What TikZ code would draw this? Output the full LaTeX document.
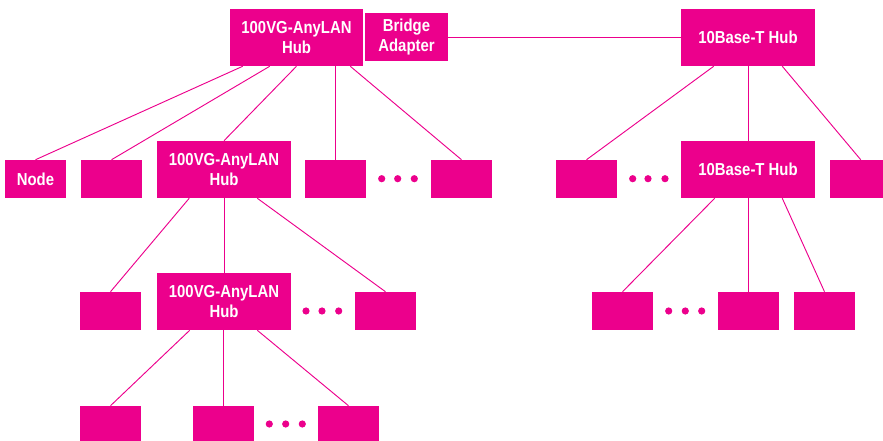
\documentclass[tikz,border=0pt]{standalone}
\usepackage{fontspec}
\setmainfont{Liberation Sans}[FakeStretch=0.86]
\usetikzlibrary{calc}
\definecolor{mag}{RGB}{236,0,140}
\newcommand\mybox[6]{\node[box, minimum width={(#4-#2)*0.75pt}, minimum height={(#5-#3)*0.75pt}] (#1) at ({(#2+#4)/2},{(#3+#5)/2}) {#6};}
\newcommand\mydots[4]{\foreach \dx in {#1,#2,#3} \fill[mag] (\dx,#4) circle[radius=3.6];}
\begin{document}
\begin{tikzpicture}[x=0.75pt,y=-0.75pt,
  box/.style={fill=mag, draw=none, text=white, font=\fontsize{13}{15}\selectfont\bfseries, align=center, inner sep=0pt},
  link/.style={draw=mag, line width=0.7pt}]
\useasboundingbox (0,0) rectangle (883,441);
% top row
\mybox{h1}{230}{9}{363}{66}{100VG-AnyLAN\\Hub}
\mybox{ba}{365}{13}{448}{61}{Bridge\\Adapter}
\mybox{t1}{681}{9}{815}{66}{10Base-T Hub}
% second row
\mybox{nd}{5}{160}{66}{198}{Node}
\mybox{b2}{81}{160}{142}{198}{}
\mybox{h2}{157}{141}{291}{198}{100VG-AnyLAN\\Hub}
\mybox{b3}{305}{160}{366}{198}{}
\mybox{b4}{431}{160}{492}{198}{}
\mybox{r1}{556}{160}{617}{198}{}
\mybox{t2}{681}{141}{815}{198}{10Base-T Hub}
\mybox{r2}{830}{160}{883}{198}{}
% third row
\mybox{l1}{80}{292}{141}{330}{}
\mybox{h3}{157}{273}{291}{330}{100VG-AnyLAN\\Hub}
\mybox{l2}{355}{292}{416}{330}{}
\mybox{rr1}{592}{292}{653}{330}{}
\mybox{rr2}{718}{292}{779}{330}{}
\mybox{rr3}{794}{292}{855}{330}{}
% fourth row
\mybox{f1}{80}{406}{141}{441}{}
\mybox{f2}{193}{406}{254}{441}{}
\mybox{f3}{318}{406}{379}{441}{}
% connectors
\draw[link] ($(h1.south west)+(13,0)$) -- (nd.north);
\draw[link] ($(h1.south west)+(40,0)$) -- (b2.north);
\draw[link] (h1.south) -- (h2.north);
\draw[link] (b3.north |- h1.south) -- (b3.north);
\draw[link] ($(h1.south east)+(-13,0)$) -- (b4.north);
\draw[link] (ba.east) -- (ba.east -| t1.west);
\draw[link] ($(t1.south west)+(33,0)$) -- (r1.north);
\draw[link] (t1.south) -- (t2.north);
\draw[link] ($(t1.south east)+(-33,0)$) -- ($(r2.north west)+(31,0)$);
\draw[link] ($(h2.south west)+(32.5,0)$) -- (l1.north);
\draw[link] (h3.north |- h2.south) -- (h3.north);
\draw[link] ($(h2.south east)+(-34,0)$) -- (l2.north);
\draw[link] ($(h3.south west)+(33,0)$) -- (f1.north);
\draw[link] (f2.north |- h3.south) -- (f2.north);
\draw[link] ($(h3.south east)+(-34,0)$) -- (f3.north);
\draw[link] ($(t2.south west)+(34,0)$) -- (rr1.north);
\draw[link] (rr2.north |- t2.south) -- (rr2.north);
\draw[link] ($(t2.south east)+(-33,0)$) -- (rr3.north);
% ellipses
\mydots{381.7}{397.7}{414.3}{178.7}
\mydots{632.7}{648}{665}{178.7}
\mydots{306}{322}{338.7}{311}
\mydots{668.7}{685.3}{701.7}{311}
\mydots{269.3}{285.7}{302.3}{424}
\end{tikzpicture}
\end{document}
